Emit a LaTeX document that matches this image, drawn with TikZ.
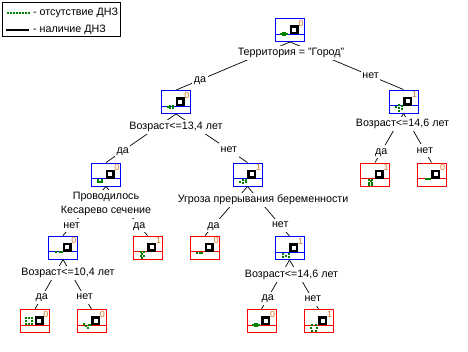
\documentclass[tikz,border=0pt]{standalone}
\usepackage{fontspec}
\setmainfont{Liberation Sans}
\definecolor{dgreen}{RGB}{0,128,0}
\definecolor{digor}{RGB}{214,120,40}
\definecolor{bblue}{RGB}{0,0,255}
\definecolor{rred}{RGB}{255,0,0}
\newcommand\mkbox[6]{%
  \node[tbx, draw=#4] (#1) at (#2,#3) {};
  \begin{scope}[shift={(#1.center)}]
    \draw[#4, line width=0.9pt] (-14.5,4) -- (14.5,4);
    \foreach \u/\v in {#6} {\fill[dgreen] (\u-1,\v-1) rectangle (\u+1,\v+1);}
    \draw[line width=2.4pt, fill=white] (1.1,-3.4) rectangle (7.4,2.9);
    \node[dig] (#1d) at (11,-7) {#5};
  \end{scope}}
\begin{document}
\begin{tikzpicture}[x=1pt,y=-1pt,
  tbx/.style={line width=0.9pt, minimum width=29pt, minimum height=23pt, inner sep=0pt, fill=white},
  edge/.style={line width=0.7pt},
  lab/.style={font=\fontsize{10.7}{14}\selectfont, fill=white, inner sep=1.5pt, text height=7.8pt, text depth=2.4pt},
  slab/.style={lab, inner sep=2pt},
  dig/.style={font=\fontsize{9}{9}\selectfont, text=digor, inner sep=0pt}]
\useasboundingbox (0,0) rectangle (468,351);
% legend
\node[draw, line width=0.7pt, anchor=north west, minimum width=118pt, minimum height=34pt, inner sep=0pt] (legend) at (2,2) {};
\foreach \x in {8,11,...,29} {\fill[dgreen] (\x-0.9,12.1) rectangle (\x+0.9,13.9);}
\coordinate (la) at (6,30);
\coordinate (lb) at (29,30);
\draw[line width=1.5pt] (la) -- (lb);
\node[lab, anchor=west, inner sep=0pt] (leg1) at (33,13) {- отсутствие ДНЗ};
\node[lab, anchor=west, inner sep=0pt] (leg2) at (33,30) {- наличие ДНЗ};
% boxes
\mkbox{root}{290}{30}{bblue}{0}{-9/4,-7/2.8,-7/5.2,-5/2.8,-5/5.2,-3/4}
\mkbox{A}{176}{102}{bblue}{0}{-8/5,-6/3.5,-6/5.5,-3/3.5,-3/5.5}
\mkbox{B}{403.5}{101.5}{bblue}{1}{-8/5,-5/3,-5/6,-2/4,-2/7,-5/9}
\mkbox{C}{106}{174.5}{bblue}{0}{-8/5,-8/7,-4/5,-4/7,-6/7}
\mkbox{D}{247.5}{174.5}{bblue}{1}{-8/7,-5/5,-5/8,-2/5.5,-2/7.5}
\mkbox{B1}{375}{174.5}{rred}{1}{-6/5,-3/5,-4.5/6.5,-6/8,-3/8,-6/10.5,-3/10.5}
\mkbox{B2}{431.5}{174.5}{rred}{0}{-6/4.5,-3.5/4,-1.5/4}
\mkbox{C1}{63}{247.5}{bblue}{0}{-7/4.5,-3/4,-1/4}
\mkbox{C2}{147.5}{247.5}{rred}{1}{-7/4,-4/4,-5.5/6,-7/8,-4/8,-5.5/10}
\mkbox{D1}{205}{247.5}{rred}{0}{-8/5,-5/5.5,-3/5}
\mkbox{D2}{289.5}{248}{bblue}{1}{-7/6,-7/9,-4/7.5,-1/6,-1/9}
\mkbox{C11}{35}{321}{rred}{0}{-9/-3,-9/0,-9/3,-6/-3,-3/-3,-6/3,-3/3,-3/0}
\mkbox{C12}{91.5}{321}{rred}{0}{-8/3,-6/5,-4/6.5,-3/3.5,-1/3.5}
\mkbox{D21}{261.5}{321}{rred}{0}{-9/4,-7/3,-7/5,-5/3,-5/5,-3/4}
\mkbox{D22}{318.5}{321}{rred}{1}{-7/4,-3/4,-8/7,-2/7,-7/10,-3/10}
% edges
\draw[edge] (root.south) -- node[lab,pos=0.79] (e1) {да} (A.north);
\draw[edge] (root.south) -- node[lab,pos=0.71] (e2) {нет} (B.north);
\draw[edge] (A.south) -- node[lab,pos=0.76] (e3) {да} (C.north);
\draw[edge] (A.south) -- node[lab,pos=0.74] (e4) {нет} (D.north);
\draw[edge] (B.south) -- node[lab,pos=0.78] (e5) {да} (B1.north);
\draw[edge] (B.south) -- node[lab,pos=0.76] (e6) {нет} (B2.north);
\draw[edge] (C.south) -- node[lab,pos=0.8] (e7) {нет} (C1.north);
\draw[edge] (C.south) -- node[lab,pos=0.8] (e8) {да} (C2.north);
\draw[edge] (D.south) -- node[lab,pos=0.8] (e9) {да} (D1.north);
\draw[edge] (D.south) -- node[lab,pos=0.78] (e10) {нет} (D2.north);
\draw[edge] (C1.south) -- node[lab,pos=0.76] (e11) {да} (C11.north);
\draw[edge] (C1.south) -- node[lab,pos=0.76] (e12) {нет} (C12.north);
\draw[edge] (D2.south) -- node[lab,pos=0.78] (e13) {да} (D21.north);
\draw[edge] (D2.south) -- node[lab,pos=0.8] (e14) {нет} (D22.north);
% split labels
\node[slab] (sroot) at (291,53) {Территория = "Город"};
\node[slab] (sA) at (176,127) {Возраст<=13,4 лет};
\node[slab] (sB) at (402.5,124) {Возраст<=14,6 лет};
\node[slab, align=center, text height=, text depth=] (sC) at (106,204) {Проводилось\\Кесарево сечение};
\node[slab] (sD) at (263,200) {Угроза прерывания беременности};
\node[slab] (sC1) at (68,273) {Возраст<=10,4 лет};
\node[slab] (sD2) at (291.5,274.5) {Возраст<=14,6 лет};
\end{tikzpicture}
\end{document}
